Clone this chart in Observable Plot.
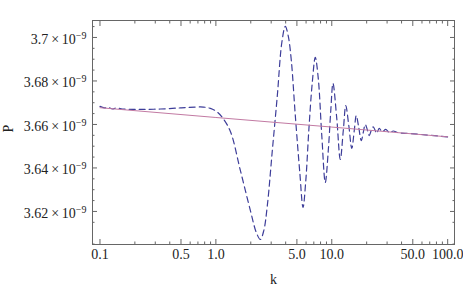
<!DOCTYPE html>
<html>
<head>
<meta charset="utf-8">
<script src="https://cdn.jsdelivr.net/npm/d3@7"></script>
<script src="https://cdn.jsdelivr.net/npm/@observablehq/plot@0.6"></script>
<style>
  html, body { margin: 0; padding: 0; background: #fff; }
</style>
</head>
<body>
<div id="chart"></div>
<script>
// P values are in units of 1e-9
const kDashed = [0.1, 0.1093, 0.1184, 0.1282, 0.1388, 0.1563, 0.2234, 0.3323, 0.4943, 0.6658, 0.7802, 0.8966,
  1.010, 1.138, 1.334, 1.626, 1.983, 2.234, 2.419, 2.593, 2.780, 3.069, 3.390, 3.707, 3.973, 4.217, 4.476,
  4.845, 5.298, 5.647, 5.970, 6.335, 6.789, 7.206, 7.648, 8.199, 8.790, 9.328, 9.804, 10.24, 11.04, 11.84,
  12.57, 13.21, 14.02, 14.88, 15.63, 16.26, 17.09, 17.96, 18.69, 19.45, 20.23, 21.05, 21.90, 22.79, 23.71,
  24.43, 25.68, 27.25, 29.21, 31.31, 33.90, 37.44, 47.50, 100];
const pDashed = [3.6683, 3.6676, 3.6678, 3.6671, 3.6676, 3.6671, 3.6669, 3.6671, 3.6676, 3.6680, 3.6680, 3.6674,
  3.6660, 3.6632, 3.6568, 3.6389, 3.6205, 3.6103, 3.6071, 3.6113, 3.6228, 3.6480, 3.6733, 3.6977, 3.7051, 3.7005, 3.6894,
  3.6641, 3.6379, 3.6218, 3.6343, 3.6572, 3.6793, 3.6908, 3.6811, 3.6549, 3.6333, 3.6480, 3.6664, 3.6789, 3.6628, 3.6439,
  3.6572, 3.6687, 3.6595, 3.6490, 3.6572, 3.6641, 3.6586, 3.6526, 3.6563, 3.6600, 3.6577, 3.6549, 3.6572, 3.6589, 3.6572,
  3.6559, 3.6582, 3.6566, 3.6577, 3.6563, 3.6570, 3.6562, 3.6558, 3.6543];

const kLine = [0.1, 1, 10, 100];
const pLine = [3.6677, 3.6632, 3.6588, 3.6543];

const xMajor = [0.1, 0.5, 1, 5, 10, 50, 100];
const xLabels = ["0.1", "0.5", "1.0", "5.0", "10.0", "50.0", "100.0"];
const xMinor = [0.2, 0.3, 0.4, 0.6, 0.7, 0.8, 0.9, 2, 3, 4, 6, 7, 8, 9, 20, 30, 40, 60, 70, 80, 90];

const yMajor = [3.62, 3.64, 3.66, 3.68, 3.70];
const yLabels = ["3.62", "3.64", "3.66", "3.68", "3.7"];
const yMinor = [3.605, 3.615, 3.625, 3.630, 3.635, 3.645, 3.650, 3.655, 3.665, 3.670, 3.675, 3.685, 3.690, 3.695, 3.705];

const dashed = kDashed.map((k, i) => ({k, p: pDashed[i]}));
const solid = kLine.map((k, i) => ({k, p: pLine[i]}));
const xTickData = xMajor.map((k, i) => ({k, label: xLabels[i]}));

const font = "'Times New Roman', 'Liberation Serif', Times, serif";
const frameColor = "#666";

const chart = Plot.plot({
  width: 463,
  height: 290,
  marginLeft: 92,
  marginRight: 9,
  marginTop: 20,
  marginBottom: 46,
  style: {fontFamily: font, fontSize: "14px", color: "#222", background: "#fff"},
  x: {type: "log", domain: [0.0862, 114.5], label: null},
  y: {domain: [3.6048, 3.7078], label: null},
  marks: [
    Plot.line(dashed, {x: "k", y: "p", stroke: "#3d3d99", strokeWidth: 1.2, strokeDasharray: "6,4", curve: "catmull-rom"}),
    Plot.line(solid, {x: "k", y: "p", stroke: "#c27aa3", strokeWidth: 1}),
    Plot.frame({stroke: frameColor}),
    Plot.axisX(xMajor, {anchor: "bottom", tickSize: -5, fill: "none", stroke: frameColor, label: null}),
    Plot.axisX(xMajor, {anchor: "top", tickSize: -5, fill: "none", stroke: frameColor, label: null}),
    Plot.axisX(xMinor, {anchor: "bottom", tickSize: -2.5, fill: "none", stroke: frameColor, label: null}),
    Plot.axisX(xMinor, {anchor: "top", tickSize: -2.5, fill: "none", stroke: frameColor, label: null}),
    Plot.axisY(yMajor, {anchor: "left", tickSize: -5, fill: "none", stroke: frameColor, label: null}),
    Plot.axisY(yMajor, {anchor: "right", tickSize: -5, fill: "none", stroke: frameColor, label: null}),
    Plot.axisY(yMinor, {anchor: "left", tickSize: -2.5, fill: "none", stroke: frameColor, label: null}),
    Plot.axisY(yMinor, {anchor: "right", tickSize: -2.5, fill: "none", stroke: frameColor, label: null}),
    Plot.text(xTickData, {x: "k", frameAnchor: "bottom", dy: 14, text: "label", fill: "#222"}),
    Plot.axisY(yMajor, {anchor: "left", tickSize: 0, tickPadding: 6, dy: 2, fill: "#222",
      tickFormat: d => yLabels[yMajor.indexOf(d)] + "\u2009×\u200910", label: null}),
    Plot.text(["k"], {frameAnchor: "bottom", dy: 39, text: d => d, fill: "#222"}),
    Plot.text(["P"], {frameAnchor: "left", dx: -84, rotate: -90, text: d => d, fill: "#222"})
  ]
});

// superscript exponent on the y tick labels
d3.select(chart).selectAll('g[aria-label="y-axis tick label"] text').each(function() {
  d3.select(this).append("tspan").attr("font-size", "10px").attr("dy", "-5").text("−9");
});

document.getElementById("chart").appendChild(chart);
</script>
</body>
</html>
